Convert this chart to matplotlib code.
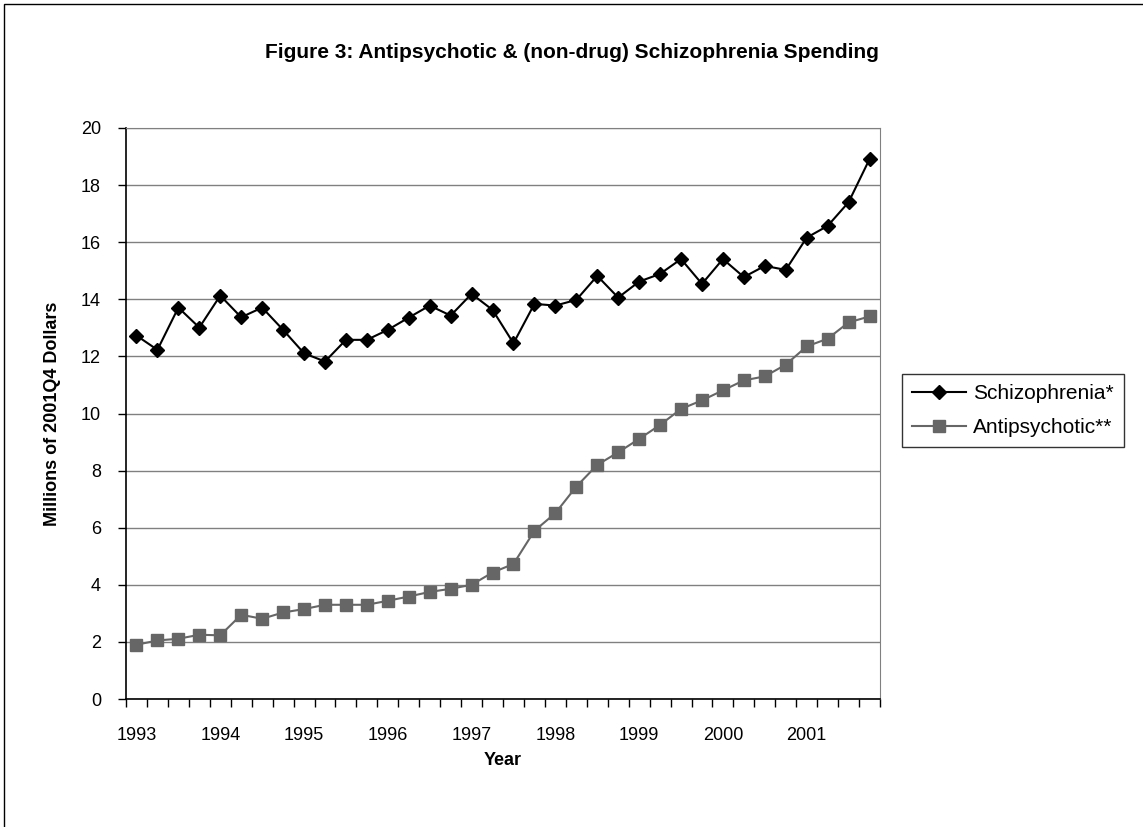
import numpy as np
import matplotlib.pyplot as plt
from matplotlib.patches import Rectangle

plt.rcParams['font.family'] = ['Liberation Sans', 'DejaVu Sans']

# quarterly data, 1993Q1 .. 2001Q4
quarters = ['%dQ%d' % (y, q) for y in range(1993, 2002) for q in range(1, 5)]
year_labels = ['1993', '1994', '1995', '1996', '1997', '1998', '1999', '2000', '2001']

schizophrenia = [12.73, 12.23, 13.71, 13.01, 14.13, 13.37, 13.71, 12.93, 12.11, 11.82,
                 12.58, 12.58, 12.93, 13.36, 13.78, 13.43, 14.19, 13.63, 12.46, 13.84,
                 13.78, 13.98, 14.82, 14.06, 14.62, 14.89, 15.41, 14.54, 15.41, 14.78,
                 15.17, 15.03, 16.16, 16.57, 17.40, 18.91]
antipsychotic = [1.90, 2.05, 2.11, 2.25, 2.23, 2.95, 2.81, 3.03, 3.15, 3.30,
                 3.30, 3.30, 3.44, 3.59, 3.75, 3.86, 4.00, 4.43, 4.73, 5.89,
                 6.51, 7.44, 8.20, 8.64, 9.11, 9.60, 10.16, 10.46, 10.81, 11.16,
                 11.30, 11.71, 12.35, 12.62, 13.19, 13.40]

W, H = 1143, 827
fig = plt.figure(figsize=(W / 100, H / 100), dpi=100)

# chart area border (cut off on the right and bottom, as in the original)
fig.patches.append(Rectangle((4 / W, -0.1), 1.2, 1 - 4 / H + 0.1, transform=fig.transFigure,
                             fill=False, edgecolor='black', linewidth=1.0))

ax = fig.add_axes([126 / W, 1 - 699 / H, (880 - 126) / W, (699 - 128) / H])

x = np.arange(len(quarters))
ax.plot(x, schizophrenia, color='black', linewidth=1.5, marker='D', markersize=7,
        markerfacecolor='black', markeredgecolor='black', label='Schizophrenia*', zorder=4)
ax.plot(x, antipsychotic, color='#666666', linewidth=1.5, marker='s', markersize=8.5,
        markerfacecolor='#666666', markeredgecolor='#666666', label='Antipsychotic**', zorder=3)

ax.set_xlim(-0.5, len(quarters) - 0.5)
ax.set_ylim(0, 20)
ax.set_yticks(range(0, 21, 2))
ax.set_xticks(x[::4])
ax.set_xticklabels(year_labels)
ax.set_xticks(np.arange(-0.5, len(quarters)), minor=True)
ax.tick_params(axis='x', which='major', length=0, pad=20, labelsize=13)
ax.tick_params(axis='x', which='minor', length=6, width=1, direction='out')
ax.tick_params(axis='y', length=6, width=1, direction='out', pad=12, labelsize=13)

ax.grid(axis='y', color='#808080', linewidth=1)
ax.set_axisbelow(True)
for side in ['top', 'right']:
    ax.spines[side].set_color('#808080')
for side in ['left', 'bottom']:
    ax.spines[side].set_color('black')
    ax.spines[side].set_linewidth(1.2)

ax.set_xlabel('Year', fontsize=13, fontweight='bold', labelpad=6)
ax.set_ylabel('Millions of 2001Q4 Dollars', fontsize=13, fontweight='bold', labelpad=14)

fig.text(572 / W, 1 - 52 / H, 'Figure 3: Antipsychotic & (non-drug) Schizophrenia Spending',
         ha='center', va='center', fontsize=15, fontweight='bold')

leg = ax.legend(loc='upper left', bbox_to_anchor=(902 / W, 1 - 374 / H),
                bbox_transform=fig.transFigure, fontsize=15, frameon=True, fancybox=False,
                handlelength=2.55, borderaxespad=0, borderpad=0.5, labelspacing=0.7,
                handletextpad=0.34)
leg.get_frame().set_edgecolor('black')
leg.get_frame().set_linewidth(1.0)

fig.savefig('out.png', dpi=100)
